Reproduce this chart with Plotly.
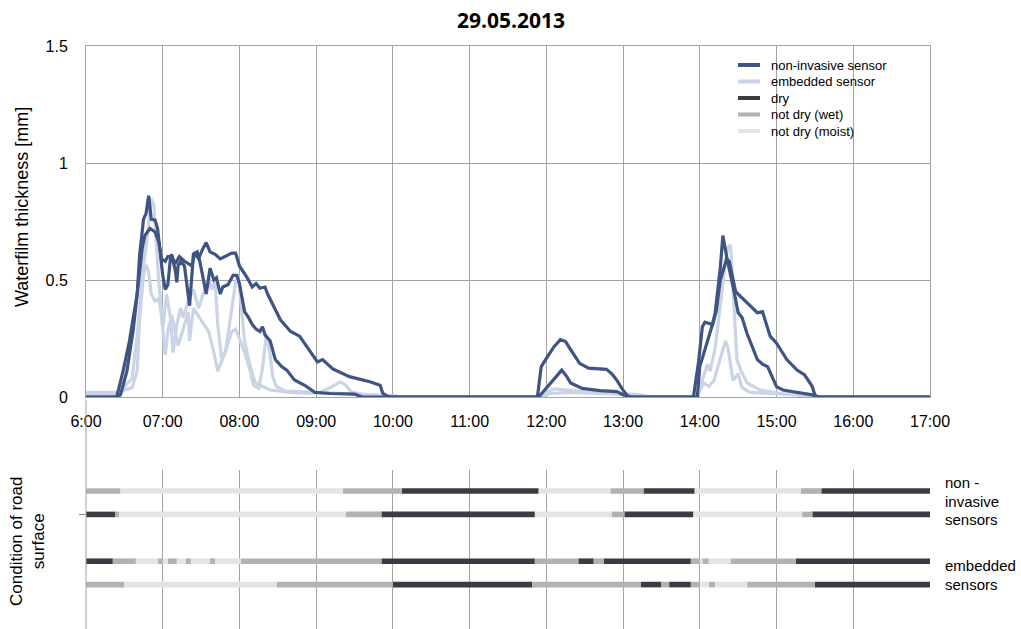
import plotly.graph_objects as go

W, H = 1021, 629

# ---------------------------------------------------------------
# Waterfilm thickness [mm] against time of day
# ---------------------------------------------------------------
ni_a_time = ["06:00", "06:24", "06:29", "06:34", "06:40", "06:42", "06:45", "06:47", "06:49", "06:50",
             "06:51", "06:54", "06:56", "06:58", "07:00", "07:02", "07:04", "07:06", "07:07", "07:10",
             "07:11", "07:12", "07:14", "07:17", "07:20", "07:21", "07:24", "07:27", "07:29", "07:32",
             "07:34", "07:37", "07:40", "07:42", "07:45", "07:47", "07:51", "07:55", "07:58", "08:00",
             "08:04", "08:07", "08:10", "08:13", "08:16", "08:18", "08:20", "08:24", "08:28", "08:33",
             "08:37", "08:43", "08:51", "08:59", "09:11", "09:30", "09:36", "11:54", "12:05", "12:12",
             "12:16", "12:19", "12:28", "12:42", "12:55", "13:00", "13:06", "13:55", "13:59", "14:02",
             "14:04", "14:10", "14:12", "14:14", "14:16", "14:18", "14:19", "14:21", "14:26", "14:30",
             "14:33", "14:37", "14:45", "14:49", "14:53", "15:00", "15:05", "15:21", "15:29", "15:31",
             "17:00"]
ni_a_mm = [0, 0, 0.11, 0.24, 0.44, 0.61, 0.76, 0.785, 0.86, 0.79,
           0.76, 0.756, 0.72, 0.62, 0.52, 0.46, 0.48, 0.59, 0.61, 0.535,
           0.49, 0.56, 0.58, 0.56, 0.44, 0.39, 0.61, 0.62, 0.58, 0.49,
           0.44, 0.55, 0.5, 0.51, 0.44, 0.47, 0.48, 0.52, 0.52, 0.485,
           0.365, 0.34, 0.31, 0.29, 0.28, 0.30, 0.265, 0.24, 0.16, 0.13,
           0.115, 0.073, 0.05, 0.02, 0.015, 0.012, 0, 0, 0.07, 0.115,
           0.087, 0.06, 0.037, 0.027, 0.023, 0.01, 0, 0, 0.15, 0.30,
           0.32, 0.31, 0.36, 0.45, 0.55, 0.69, 0.66, 0.60, 0.47, 0.36,
           0.34, 0.27, 0.16, 0.14, 0.13, 0.044, 0.03, 0.017, 0.008, 0,
           0]

ni_b_time = ["06:00", "06:25", "06:27", "06:32", "06:37", "06:41", "06:44", "06:46", "06:50", "06:54",
             "06:57", "06:59", "07:02", "07:04", "07:07", "07:10", "07:13", "07:17", "07:23", "07:25",
             "07:28", "07:31", "07:34", "07:37", "07:41", "07:45", "07:49", "07:54", "07:57", "08:00",
             "08:06", "08:10", "08:13", "08:16", "08:20", "08:22", "08:32", "08:40", "08:47", "08:55",
             "09:01", "09:05", "09:13", "09:26", "09:42", "09:50", "09:52", "09:55", "09:58", "11:53",
             "11:56", "12:00", "12:06", "12:11", "12:15", "12:20", "12:26", "12:33", "12:47", "12:51",
             "12:55", "12:59", "13:03", "13:05", "13:58", "14:00", "14:04", "14:11", "14:13", "14:16",
             "14:21", "14:23", "14:28", "14:37", "14:45", "14:49", "14:55", "15:00", "15:08", "15:16",
             "15:22", "15:28", "15:30", "15:33", "17:00"]
ni_b_mm = [0, 0, 0.01, 0.11, 0.29, 0.48, 0.635, 0.69, 0.72, 0.705,
           0.66, 0.59, 0.58, 0.60, 0.60, 0.57, 0.60, 0.58, 0.56, 0.62,
           0.59, 0.63, 0.66, 0.62, 0.61, 0.59, 0.60, 0.615, 0.615, 0.56,
           0.51, 0.47, 0.485, 0.465, 0.47, 0.44, 0.33, 0.28, 0.26, 0.20,
           0.15, 0.16, 0.12, 0.087, 0.065, 0.05, 0.017, 0.005, 0, 0,
           0.13, 0.165, 0.215, 0.245, 0.237, 0.194, 0.144, 0.123, 0.118, 0.10,
           0.073, 0.037, 0.008, 0, 0, 0.13, 0.20, 0.33, 0.37, 0.50,
           0.59, 0.58, 0.45, 0.40, 0.36, 0.365, 0.26, 0.23, 0.16, 0.115,
           0.094, 0.044, 0.008, 0, 0]

em_a_time = ["06:00", "06:27", "06:31", "06:36", "06:40", "06:44", "06:48", "06:51", "06:53", "06:55",
             "06:57", "06:59", "07:00", "07:03", "07:06", "07:08", "07:11", "07:14", "07:16", "07:20",
             "07:24", "07:28", "07:32", "07:36", "07:38", "07:41", "07:43", "07:46", "07:49", "07:53",
             "07:57", "07:59", "08:02", "08:04", "08:08", "08:12", "08:16", "08:24", "08:40", "08:55",
             "09:03", "09:11", "09:19", "09:23", "09:28", "09:38", "09:50", "10:05", "11:51", "11:59",
             "12:07", "12:15", "12:34", "12:58", "13:13", "13:21", "13:56", "14:00", "14:06", "14:08",
             "14:12", "14:16", "14:20", "14:22", "14:24", "14:26", "14:29", "14:32", "14:37", "14:47",
             "15:03", "15:18", "15:26", "15:34", "17:00"]
em_a_mm = [0.015, 0.015, 0.05, 0.08, 0.26, 0.51, 0.69, 0.85, 0.82, 0.65,
           0.49, 0.365, 0.29, 0.44, 0.34, 0.19, 0.31, 0.38, 0.34, 0.41,
           0.46, 0.38, 0.45, 0.51, 0.46, 0.49, 0.31, 0.165, 0.19, 0.34,
           0.49, 0.52, 0.365, 0.24, 0.14, 0.065, 0.05, 0.03, 0.02, 0.015,
           0.02, 0.04, 0.065, 0.05, 0.02, 0.01, 0.005, 0, 0, 0.02,
           0.035, 0.03, 0.02, 0.015, 0.01, 0, 0, 0.04, 0.14, 0.11,
           0.21, 0.39, 0.58, 0.64, 0.65, 0.47, 0.16, 0.115, 0.06, 0.03,
           0.015, 0.01, 0.005, 0, 0]

em_b_time = ["06:00", "06:25", "06:36", "06:40", "06:42", "06:45", "06:47", "06:49", "06:51", "06:54",
             "06:57", "06:59", "07:02", "07:04", "07:07", "07:10", "07:12", "07:16", "07:20", "07:21",
             "07:24", "07:31", "07:36", "07:40", "07:43", "07:47", "07:50", "07:54", "07:57", "08:00",
             "08:04", "08:08", "08:11", "08:15", "08:18", "08:21", "08:24", "08:26", "08:29", "08:36",
             "08:55", "09:19", "09:42", "10:02", "10:06", "11:55", "12:03", "12:19", "12:42", "13:06",
             "13:17", "13:58", "14:03", "14:07", "14:11", "14:16", "14:20", "14:22", "14:26", "14:30",
             "14:33", "14:39", "15:03", "15:18", "15:30", "17:00"]
em_b_mm = [0.02, 0.02, 0.04, 0.11, 0.34, 0.52, 0.565, 0.535, 0.44, 0.41,
           0.42, 0.35, 0.18, 0.28, 0.35, 0.265, 0.22, 0.29, 0.365, 0.24,
           0.38, 0.32, 0.28, 0.19, 0.11, 0.165, 0.21, 0.28, 0.29, 0.25,
           0.19, 0.12, 0.05, 0.037, 0.12, 0.27, 0.18, 0.087, 0.044, 0.025,
           0.02, 0.015, 0.01, 0.005, 0, 0, 0.015, 0.02, 0.015, 0.01,
           0, 0, 0.06, 0.045, 0.07, 0.16, 0.24, 0.21, 0.07, 0.10,
           0.04, 0.02, 0.012, 0.008, 0, 0]

# ---------------------------------------------------------------
# Condition of road surface: change times and state of each sensor
# ---------------------------------------------------------------
row_ni_1_times = ["06:00", "06:27", "09:21", "10:07", "11:54", "12:50", "13:16", "13:56", "15:19", "15:35", "17:00"]
row_ni_1_state = ["wet", "moist", "wet", "dry", "moist", "wet", "dry", "moist", "wet", "dry"]

row_ni_2_times = ["06:00", "06:23", "06:26", "09:23", "09:51", "11:51", "12:51", "13:01", "13:55", "15:20", "15:28", "17:00"]
row_ni_2_state = ["dry", "wet", "moist", "wet", "dry", "moist", "wet", "dry", "moist", "wet", "dry"]

row_em_1_times = ["06:00", "06:21", "06:39", "06:56", "07:00", "07:04", "07:11", "07:18", "07:22", "07:37",
                  "07:41", "08:01", "09:51", "11:51", "12:25", "12:37", "12:45", "13:53", "14:00", "14:02",
                  "14:07", "14:24", "15:15", "17:00"]
row_em_1_state = ["dry", "wet", "moist", "wet", "moist", "wet", "moist", "wet", "moist", "wet",
                  "moist", "wet", "dry", "wet", "dry", "wet", "dry", "wet", "moist", "wet",
                  "moist", "wet", "dry"]

row_em_2_times = ["06:00", "06:30", "08:29", "10:00", "11:49", "13:14", "13:30", "13:36", "13:53", "14:00",
                  "14:07", "14:12", "14:37", "15:30", "17:00"]
row_em_2_state = ["wet", "moist", "wet", "dry", "wet", "dry", "wet", "dry", "wet", "moist",
                  "wet", "moist", "wet", "dry"]

hour_ticks = [6, 7, 8, 9, 10, 11, 12, 13, 14, 15, 16, 17]
hour_labels = ["6:00", "07:00", "08:00", "09:00", "10:00", "11:00", "12:00",
               "13:00", "14:00", "15:00", "16:00", "17:00"]
mm_ticks = [0, 0.5, 1, 1.5]
mm_labels = ["0", "0.5", "1", "1.5"]

# ---------------------------------------------------------------
# styling
# ---------------------------------------------------------------
C_NI = "#3f5483"
C_EM = "#cbd4e6"
STATE_COLOR = {"dry": "#3b3c43", "wet": "#b2b2b2", "moist": "#e3e4e6"}
STATE_LABEL = {"dry": "dry", "wet": "not dry (wet)", "moist": "not dry (moist)"}
GRID = "#a3a3a3"
FONT = "Liberation Sans, Arial, sans-serif"


def hours(ts):
    out = []
    for t in ts:
        h, m = t.split(":")
        out.append(int(h) + int(m) / 60.0)
    return out


def px_x(px):
    return px / W


def px_y(py):
    return 1 - py / H


fig = go.Figure()

# embedded sensors underneath, non-invasive sensors on top
for t, v in [(em_a_time, em_a_mm), (em_b_time, em_b_mm)]:
    fig.add_trace(go.Scatter(x=hours(t), y=v, mode="lines",
                             line=dict(color=C_EM, width=3.2), showlegend=False,
                             hoverinfo="skip", xaxis="x", yaxis="y"))
for t, v in [(ni_a_time, ni_a_mm), (ni_b_time, ni_b_mm)]:
    fig.add_trace(go.Scatter(x=hours(t), y=v, mode="lines",
                             line=dict(color=C_NI, width=3.2), showlegend=False,
                             hoverinfo="skip", xaxis="x", yaxis="y"))

# road condition strips (row positions on the lower axis)
rows = [(4, row_ni_1_times, row_ni_1_state),
        (3, row_ni_2_times, row_ni_2_state),
        (1, row_em_1_times, row_em_1_state),
        (0, row_em_2_times, row_em_2_state)]
for state in ["dry", "wet", "moist"]:
    ys, bases, lens = [], [], []
    for pos, times, states in rows:
        hrs = hours(times)
        for i, s in enumerate(states):
            if s == state:
                ys.append(pos)
                bases.append(hrs[i])
                lens.append(hrs[i + 1] - hrs[i])
    fig.add_trace(go.Bar(x=lens, y=ys, base=bases, orientation="h", width=0.24,
                         marker=dict(color=STATE_COLOR[state], line=dict(width=0)),
                         showlegend=False, hoverinfo="skip", xaxis="x2", yaxis="y2"))

x_dom = [px_x(86), px_x(930)]

fig.update_layout(
    width=W, height=H,
    margin=dict(l=0, r=0, t=0, b=0),
    paper_bgcolor="white", plot_bgcolor="white",
    template="none",
    barmode="overlay",
    showlegend=False,
    font=dict(family=FONT, size=16, color="#000000"),
    xaxis=dict(domain=x_dom, range=[6, 17], tickvals=hour_ticks, ticktext=hour_labels,
               showgrid=True, gridcolor=GRID, gridwidth=1, zeroline=False,
               showline=True, linecolor=GRID, linewidth=1, mirror=True,
               ticks="", ticklabelstandoff=10, tickfont=dict(size=16), anchor="y"),
    yaxis=dict(domain=[px_y(397), px_y(46)], range=[0, 1.5], tickvals=mm_ticks, ticktext=mm_labels,
               showgrid=True, gridcolor=GRID, gridwidth=1, zeroline=False,
               showline=True, linecolor=GRID, linewidth=1, mirror=True,
               ticks="", ticklabelstandoff=14, tickfont=dict(size=16), anchor="x"),
    xaxis2=dict(domain=x_dom, range=[6, 17], tickvals=hour_ticks, showticklabels=False,
                showgrid=True, gridcolor=GRID, gridwidth=1, zeroline=False,
                showline=False, ticks="", anchor="y2"),
    yaxis2=dict(domain=[0, px_y(470)], range=[-1.9, 4.9], tickvals=[3], showticklabels=False,
                ticks="outside", ticklen=6, tickcolor="#808080",
                showgrid=False, zeroline=False, showline=False, anchor="x2"),
)

# left edge of the condition panel
fig.add_shape(type="line", xref="paper", yref="paper",
              x0=px_x(86), x1=px_x(86), y0=px_y(400), y1=0,
              line=dict(color=GRID, width=1))


def label(text, px, py, size, xanchor="center", angle=0, family=None):
    f = dict(size=size)
    if family:
        f["family"] = family
    fig.add_annotation(text=text, xref="paper", yref="paper", x=px_x(px), y=px_y(py),
                       xanchor=xanchor, yanchor="middle", showarrow=False,
                       textangle=angle, font=f)


# title and axis titles
label("<b>29.05.2013</b>", 511, 20, 21, family="Open Sans, sans-serif")
label("Waterfilm thickness [mm]", 22, 207, 18, angle=-90)
label("Condition of road<br>surface", 27, 542, 17, angle=-90)

# row labels on the right
for txt, py in [("non -", 483), ("invasive", 501), ("sensors", 519),
                ("embedded", 565), ("sensors", 584)]:
    label(txt, 943, py, 15, xanchor="left")

# legend
legend_items = [("non-invasive sensor", C_NI), ("embedded sensor", C_EM),
                (STATE_LABEL["dry"], STATE_COLOR["dry"]),
                (STATE_LABEL["wet"], STATE_COLOR["wet"]),
                (STATE_LABEL["moist"], STATE_COLOR["moist"])]
for i, (text, col) in enumerate(legend_items):
    py = 65 + i * 16.5
    fig.add_shape(type="line", xref="paper", yref="paper",
                  x0=px_x(738), x1=px_x(760), y0=px_y(py), y1=px_y(py),
                  line=dict(color=col, width=4))
    label(text, 769, py, 13, xanchor="left")

fig.write_html("out.html")
